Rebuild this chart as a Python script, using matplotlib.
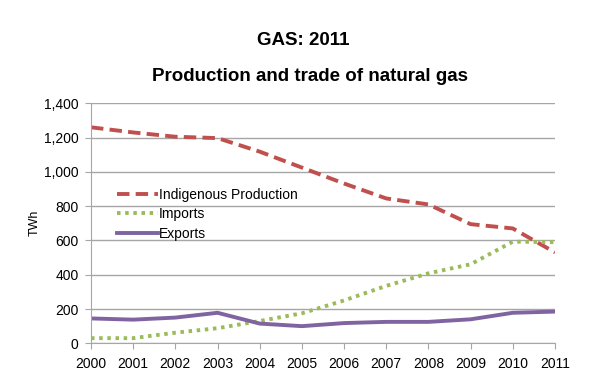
import matplotlib
matplotlib.use("Agg")
import matplotlib.pyplot as plt

years = list(range(2000, 2012))
indigenous = [1260, 1230, 1205, 1197, 1118, 1025, 932, 845, 810, 695, 670, 530]
imports = [30, 30, 62, 88, 130, 175, 250, 335, 408, 461, 593, 590]
exports = [145, 138, 150, 178, 115, 100, 118, 125, 125, 140, 178, 185]
yticks = [0, 200, 400, 600, 800, 1000, 1200, 1400]

plt.rcParams['font.family'] = ['Liberation Sans', 'DejaVu Sans']

fig = plt.figure(figsize=(6, 3.91), dpi=100)
ax = fig.add_axes([91/600, 1-343.3/391, (555-91)/600, (343.3-103.3)/391])

ax.plot(years, indigenous, color='#c0504d', lw=2.8, dashes=(3.2, 1.6), label='Indigenous Production')
ax.plot(years, imports, color='#9bbb59', lw=2.8, dashes=(0.9, 1.2), label='Imports')
ax.plot(years, exports, color='#8064a2', lw=2.8, label='Exports')

ax.set_xlim(2000, 2011)
ax.set_ylim(0, 1400)
ax.set_xticks(years)
ax.set_yticks(yticks)
ax.set_yticklabels([f"{v:,}" for v in yticks])
ax.grid(axis='y', color='#a6a6a6', lw=1)
ax.set_axisbelow(True)
for s in ['top', 'right']:
    ax.spines[s].set_visible(False)
for s in ['left', 'bottom']:
    ax.spines[s].set_color('#a6a6a6')
ax.tick_params(axis='both', colors='#a6a6a6', labelcolor='black', labelsize=10, length=4, direction='out')
ax.tick_params(axis='x', pad=6)
ax.tick_params(axis='y', pad=5)
ax.set_ylabel('TWh', fontsize=9, labelpad=2)

leg = ax.legend(loc='upper left', bbox_to_anchor=(0.045, 0.672), frameon=False, fontsize=10,
                handlelength=2.9, handletextpad=0.1, labelspacing=0.4, borderaxespad=0)

fig.text(0.505, 0.897, 'GAS: 2011', ha='center', va='center', fontsize=13.5, fontweight='bold')
fig.text(0.516, 0.805, 'Production and trade of natural gas', ha='center', va='center', fontsize=13.5, fontweight='bold')

fig.savefig('out.png', dpi=100)
